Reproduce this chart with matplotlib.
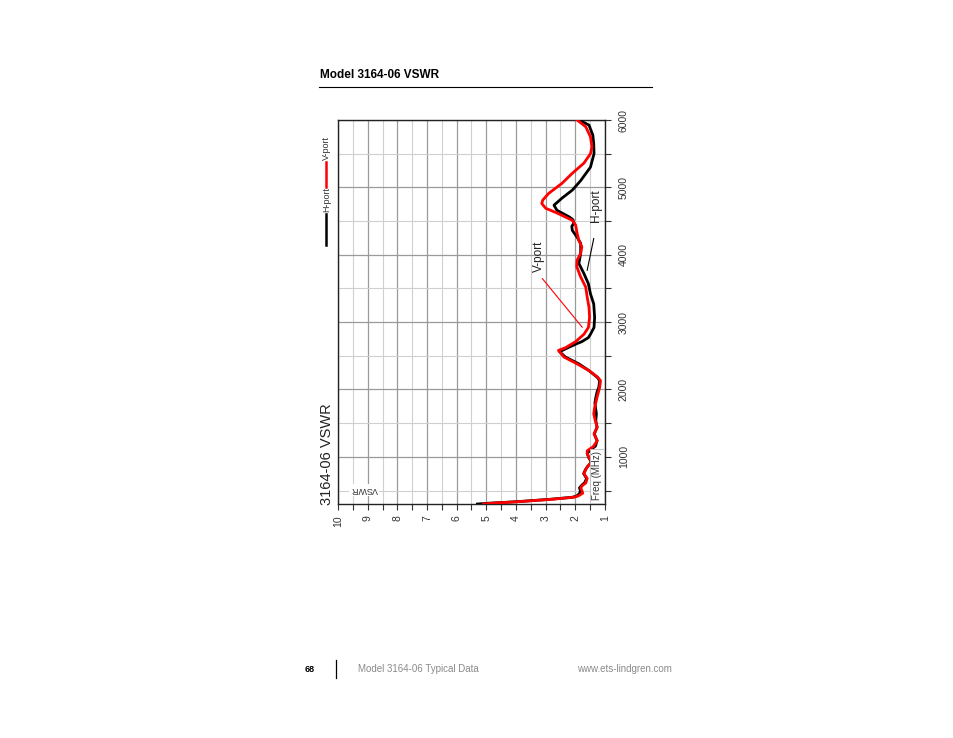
import matplotlib
matplotlib.use("Agg")
import matplotlib.pyplot as plt
from matplotlib.lines import Line2D

plt.rcParams['font.family'] = ['Liberation Sans', 'DejaVu Sans']

# ---- data (frequency in MHz, VSWR) ----
h_freq = [300, 312, 335, 370, 400, 420, 460, 500, 540, 580, 620, 680, 750, 810, 860,
          920, 990, 1050, 1100, 1160, 1240, 1340, 1440, 1540, 1640, 1730, 1800, 1880,
          1960, 2030, 2130, 2180, 2280, 2380, 2480, 2560, 2620, 2680, 2710, 2770, 2820,
          2920, 3070, 3270, 3420, 3570, 3720, 3870, 4020, 4170, 4260, 4360, 4420, 4470,
          4520, 4560, 4660, 4735, 4840, 4960, 5100, 5300, 5500, 5650, 5775, 5925, 6000]
h_vswr = [5.3, 4.9, 3.95, 2.85, 2.1, 1.95, 1.85, 1.83, 1.86, 1.78, 1.68, 1.62, 1.72, 1.66, 1.58,
          1.46, 1.55, 1.6, 1.5, 1.32, 1.27, 1.36, 1.27, 1.31, 1.29, 1.32, 1.34, 1.31,
          1.27, 1.21, 1.18, 1.26, 1.54, 1.88, 2.33, 2.53, 2.25, 1.95, 1.78, 1.56, 1.49,
          1.37, 1.35, 1.38, 1.49, 1.56, 1.71, 1.88, 1.82, 1.82, 1.94, 2.1, 2.12, 2.05,
          2.08, 2.2, 2.62, 2.72, 2.45, 2.1, 1.82, 1.49, 1.37, 1.38, 1.41, 1.54, 1.88]

v_freq = [300, 312, 335, 370, 400, 420, 460, 500, 540, 580, 610, 680, 750, 810, 850,
          920, 990, 1050, 1090, 1150, 1240, 1340, 1440, 1540, 1640, 1730, 1880, 2030,
          2130, 2180, 2280, 2380, 2480, 2580, 2620, 2710, 2820, 2920, 3070, 3220, 3370,
          3520, 3670, 3820, 3920, 4020, 4120, 4210, 4320, 4440, 4510, 4620, 4690, 4760,
          4810, 4910, 5060, 5210, 5360, 5500, 5600, 5750, 5900, 6000]
v_vswr = [5.1, 4.8, 3.9, 2.78, 2.05, 1.9, 1.75, 1.78, 1.82, 1.75, 1.65, 1.6, 1.71, 1.65, 1.6,
          1.44, 1.54, 1.6, 1.6, 1.4, 1.26, 1.37, 1.26, 1.33, 1.38, 1.35, 1.27, 1.18,
          1.15, 1.24, 1.54, 1.94, 2.38, 2.57, 2.33, 1.99, 1.71, 1.56, 1.52, 1.54, 1.60,
          1.65, 1.82, 1.95, 1.94, 1.82, 1.78, 1.88, 1.94, 1.99, 2.1, 2.62, 3.0, 3.13,
          3.1, 2.9, 2.45, 2.1, 1.71, 1.49, 1.44, 1.49, 1.65, 1.94]

vswr_ticks = [10, 9, 8, 7, 6, 5, 4, 3, 2, 1]
freq_ticks = [1000, 2000, 3000, 4000, 5000, 6000]

W, H = 954, 738
fig = plt.figure(figsize=(W / 100, H / 100), dpi=100)

def fx(x):
    return x / W

def fy(y):
    return 1 - y / H

# page header
fig.text(fx(320), fy(75), "Model 3164-06 VSWR", fontsize=8.5, fontweight='bold',
         ha='left', va='center')
fig.add_artist(Line2D([fx(319), fx(652)], [fy(87), fy(87)], color='black', lw=0.8))

# footer
fig.text(fx(305), fy(669), "68", fontsize=6.5, fontweight='bold', ha='left', va='center')
fig.add_artist(Line2D([fx(336), fx(336)], [fy(660), fy(678)], color='black', lw=0.9))
fig.text(fx(358), fy(669), "Model 3164-06 Typical Data", fontsize=7, color='#8a8a8a',
         ha='left', va='center')
fig.text(fx(672), fy(669), "www.ets-lindgren.com", fontsize=7, color='#8a8a8a',
         ha='right', va='center')

# chart axes
ax = fig.add_axes([fx(338), fy(504), fx(605) - fx(338), fy(120) - fy(504)])
ax.set_xlim(10, 1)
ax.set_ylim(300, 6000)

ax.set_xticks(vswr_ticks)
ax.set_xticks([v + 0.5 for v in range(1, 10)], minor=True)
ax.set_xticklabels([str(v) for v in vswr_ticks], rotation=90)
ax.set_yticks(freq_ticks)
ax.set_yticks([f + 500 for f in range(0, 6000, 1000)], minor=True)
ax.yaxis.tick_right()
ax.set_yticklabels([str(f) for f in freq_ticks], rotation=90, va='center')

ax.tick_params(axis='both', which='both', direction='out', length=4, width=0.8,
               color='#333333', labelsize=7.5, labelcolor='#333333', pad=3)
ax.tick_params(axis='x', which='major', pad=4)
ax.tick_params(axis='y', which='major', pad=6)

ax.grid(True, which='major', color='#9a9a9a', lw=0.9)
ax.grid(True, which='minor', color='#d0d0d0', lw=0.8)
ax.set_axisbelow(True)
for s in ax.spines.values():
    s.set_color('#222222')
    s.set_linewidth(1.0)

ax.plot(h_vswr, h_freq, color='black', lw=2.0, solid_joinstyle='round', zorder=3)
ax.plot(v_vswr, v_freq, color='#ff0000', lw=2.0, solid_joinstyle='round', zorder=4)

# annotations
ax.text(3.21, 3975, "V-port", rotation=90, fontsize=8.5, ha='center', va='center',
        color='#222222', zorder=6)
ax.add_line(Line2D([3.11, 1.77], [3645, 2925], color='#ff0000', lw=0.8, zorder=5))
ax.text(1.30, 4735, "H-port", rotation=90, fontsize=8.5, ha='center', va='center',
        color='#222222', zorder=6)
ax.add_line(Line2D([1.38, 1.60], [4240, 3770], color='black', lw=0.8, zorder=5))

ax.text(1.27, 720, "Freq (MHz)", rotation=90, fontsize=7, ha='center', va='center',
        color='#333333', zorder=7,
        bbox=dict(boxstyle='square,pad=0.25', facecolor='white', edgecolor='#bbbbbb', lw=0.6))
ax.text(9.12, 510, "VSWR", rotation=180, fontsize=6.5, ha='center', va='center',
        color='#333333', zorder=7,
        bbox=dict(boxstyle='square,pad=0.2', facecolor='white', edgecolor='none'))

# chart title (outside, rotated)
fig.text(fx(327), fy(505), "3164-06 VSWR", rotation=90, fontsize=10.5, ha='center',
         va='bottom', color='#222222')

# legend (rotated)
fig.add_artist(Line2D([fx(326.5), fx(326.5)], [fy(245), fy(214)], color='black', lw=1.8))
fig.text(fx(326.5), fy(212), "H-port", rotation=90, fontsize=6.5, ha='center', va='bottom',
         color='#333333')
fig.add_artist(Line2D([fx(326.5), fx(326.5)], [fy(187), fy(162)], color='#ff0000', lw=1.8))
fig.text(fx(326.5), fy(160), "V-port", rotation=90, fontsize=6.5, ha='center', va='bottom',
         color='#333333')

fig.savefig("out.png", dpi=100)
